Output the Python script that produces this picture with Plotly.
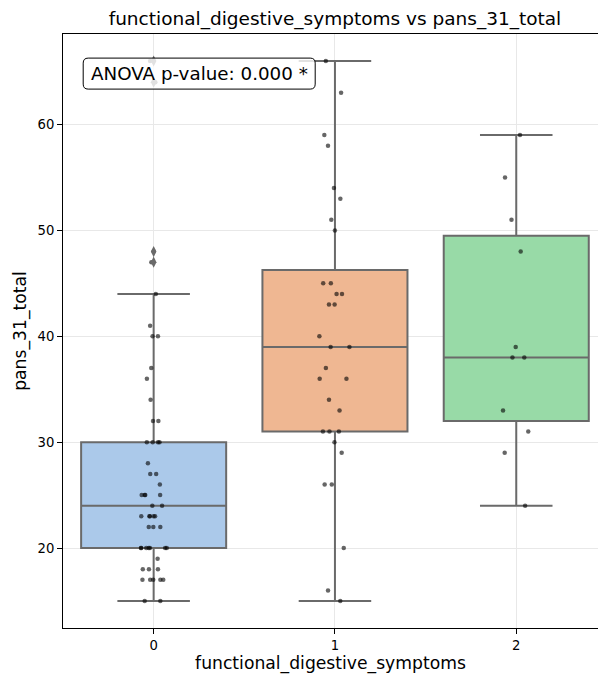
import numpy as np
import plotly.graph_objects as go

# ---- data ----
categories = [0, 1, 2]
category_labels = ["0", "1", "2"]
group0 = [15, 15, 17, 17, 17, 17, 17, 18, 18, 18, 19, 20, 20, 20, 20, 20, 20, 20,
          22, 22, 22, 23, 23, 23, 23, 23, 24, 24, 25, 25, 25, 25, 26, 27, 27, 28,
          30, 30, 30, 30, 32, 32, 34, 36, 37, 40, 40, 41, 44, 47, 48, 64, 66]
group1 = [15, 16, 20, 26, 26, 29, 30, 31, 31, 31, 33, 34, 36, 36, 37, 39, 39, 40,
          43, 43, 44, 44, 45, 45, 50, 51, 53, 54, 58, 59, 63, 66]
group2 = [24, 29, 31, 33, 38, 38, 39, 48, 51, 55, 59]
groups = [group0, group1, group2]
y_ticks = [20, 30, 40, 50, 60]
anova_text = "ANOVA p-value: 0.000 *"

box_colors = ["#abc9ea", "#efb792", "#98daa7"]
line_gray = "#6a6a6a"
FONT = "DejaVu Sans"

W, H = 598, 676
ML, MR, MT, MB = 63, 0, 34, 48
PX_PER_CAT = 181.3          # the original axes run past the right edge of the picture
plot_w = W - ML - MR
x_lo = -0.5
x_hi = x_lo + plot_w / PX_PER_CAT
axes_center_px = ML + 0.5 * 3 * PX_PER_CAT   # centre of the full (-0.5..2.5) axes

fig = go.Figure()

# boxes with matplotlib-style stats
for cat, data, col in zip(categories, groups, box_colors):
    d = np.asarray(data, dtype=float)
    q1, med, q3 = np.percentile(d, [25, 50, 75])
    iqr = q3 - q1
    lo = d[d >= q1 - 1.5 * iqr].min()
    hi = d[d <= q3 + 1.5 * iqr].max()
    fig.add_trace(go.Box(
        x=[cat], q1=[q1], median=[med], q3=[q3], lowerfence=[lo], upperfence=[hi],
        fillcolor=col, line=dict(color=line_gray, width=2), width=0.8,
        whiskerwidth=0.5, boxpoints=False, showlegend=False, hoverinfo="skip",
    ))
    fl = d[(d < lo) | (d > hi)]
    if len(fl):
        fig.add_trace(go.Scatter(
            x=[cat] * len(fl), y=fl, mode="markers", showlegend=False,
            marker=dict(symbol="diamond-tall", size=8, color=line_gray),
            hoverinfo="skip",
        ))

# jittered strip points (invisible box, library jitter)
for cat, data in zip(categories, groups):
    fig.add_trace(go.Box(
        x=[cat] * len(data), y=data, boxpoints="all", jitter=0.25, pointpos=0,
        width=0.8, fillcolor="rgba(0,0,0,0)", line=dict(width=0, color="rgba(0,0,0,0)"),
        marker=dict(color="rgba(0,0,0,0.6)", size=4.5, line=dict(width=0)),
        showlegend=False, hoverinfo="skip",
    ))

all_vals = np.concatenate([np.asarray(g, float) for g in groups])
vmin, vmax = all_vals.min(), all_vals.max()
pad = 0.05 * (vmax - vmin)

# rounded annotation box (pixel-sized path around a paper anchor)
bw, bh, r = 232, 31, 5
cx = (199.2 - ML) / plot_w
cy = 1 - (73.6 - MT) / (H - MT - MB)
hw, hh = bw / 2, bh / 2
path = (f"M {-hw + r},{-hh} L {hw - r},{-hh} Q {hw},{-hh} {hw},{-hh + r} "
        f"L {hw},{hh - r} Q {hw},{hh} {hw - r},{hh} L {-hw + r},{hh} "
        f"Q {-hw},{hh} {-hw},{hh - r} L {-hw},{-hh + r} Q {-hw},{-hh} {-hw + r},{-hh} Z")
fig.add_shape(type="path", xref="paper", yref="paper", xsizemode="pixel",
              ysizemode="pixel", xanchor=cx, yanchor=cy, path=path,
              fillcolor="rgba(255,255,255,0.8)", line=dict(color="black", width=1),
              layer="above")
fig.add_annotation(x=cx, y=cy, xref="paper", yref="paper", text=anova_text,
                   showarrow=False, xanchor="center", yanchor="middle",
                   font=dict(family=FONT, size=18.3, color="black"))

axis_common = dict(
    showline=True, linecolor="black", linewidth=1,
    ticks="outside", ticklen=5, tickcolor="black", tickwidth=1,
    showgrid=True, gridcolor="#e8e8e8", gridwidth=1, zeroline=False,
    automargin=False,
    tickfont=dict(family=FONT, size=13.2, color="black"),
)

fig.update_layout(
    width=W, height=H, margin=dict(l=ML, r=MR, t=MT, b=MB),
    paper_bgcolor="white", plot_bgcolor="white", boxmode="overlay",
    title=dict(text="functional_digestive_symptoms vs pans_31_total",
               x=axes_center_px / W, xanchor="center",
               y=1 - 19 / H, yanchor="middle", automargin=False,
               font=dict(family=FONT, size=18.5, color="black")),
    xaxis=dict(range=[x_lo, x_hi], tickvals=categories, ticktext=category_labels,
               mirror=True,
               title=dict(text="functional_digestive_symptoms", standoff=3,
                          font=dict(family=FONT, size=17.2, color="black")),
               **axis_common),
    yaxis=dict(range=[vmin - pad, vmax + pad], tickvals=y_ticks, mirror=False,
               title=dict(text="pans_31_total", standoff=6,
                          font=dict(family=FONT, size=17.2, color="black")),
               **axis_common),
)

fig.write_html("out.html")
